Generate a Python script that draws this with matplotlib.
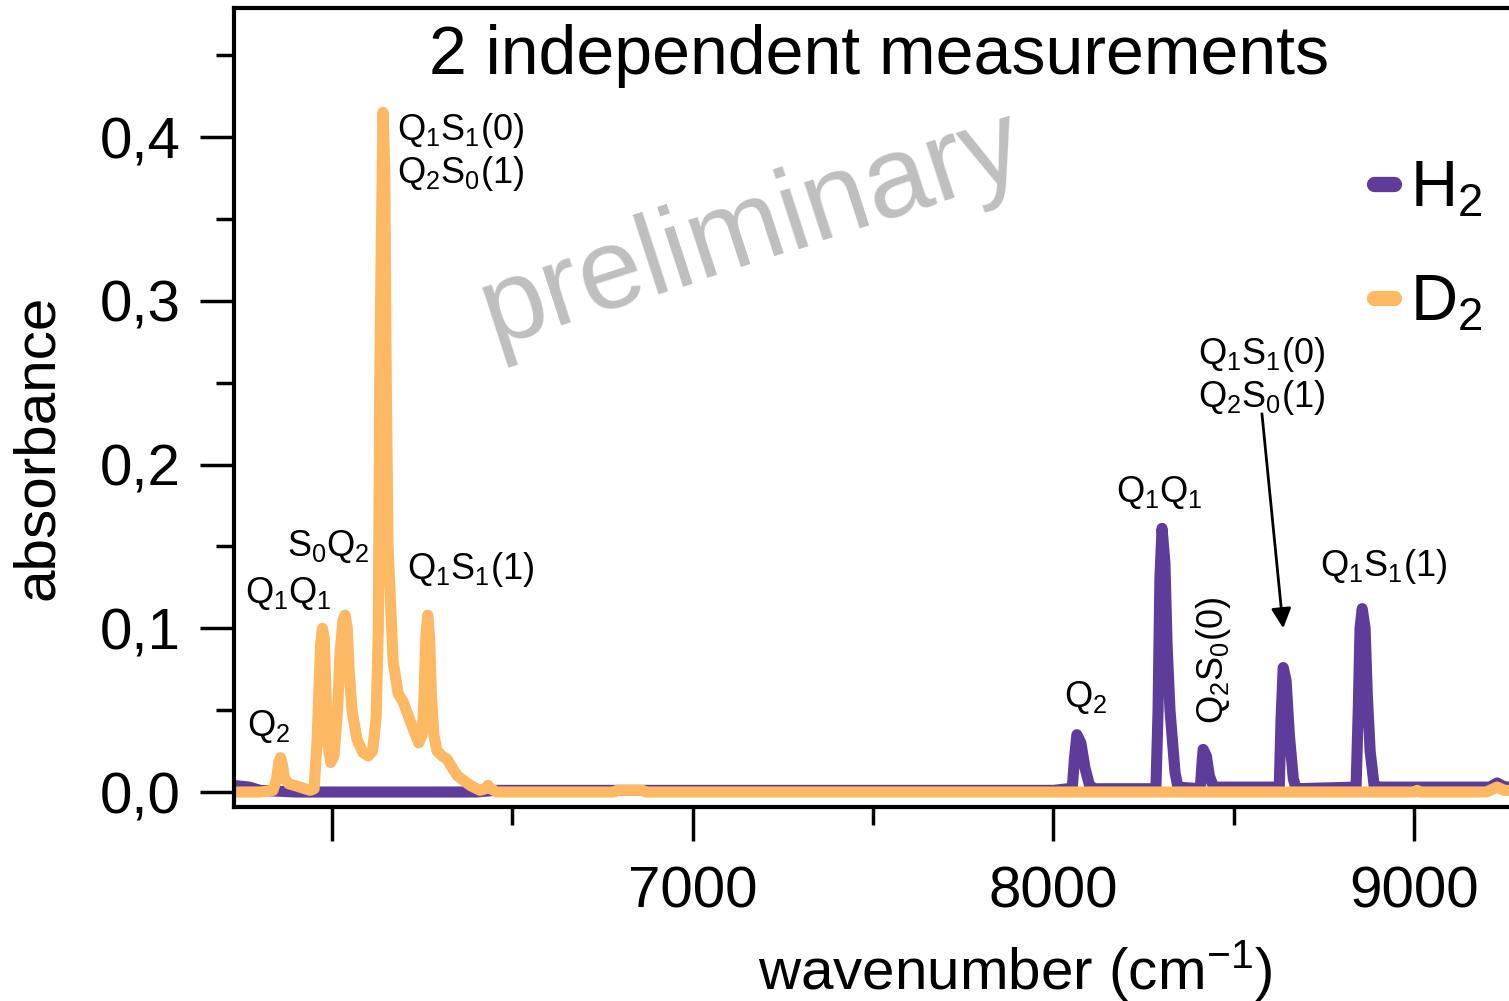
import matplotlib
matplotlib.use("Agg")
from matplotlib import pyplot as plt
from matplotlib.ticker import FixedLocator, MultipleLocator, FuncFormatter

plt.rcParams['font.family'] = ['Liberation Sans', 'DejaVu Sans']
plt.rcParams['mathtext.default'] = 'regular'

# D2 spectrum (wavenumber cm^-1, absorbance)
d2_wn = [5728, 5800, 5836, 5846, 5852, 5857, 5862, 5868, 5880, 5911, 5939, 5950,
         5958, 5963, 5968, 5973, 5978, 5983, 5988, 5996, 6005, 6015, 6022, 6030,
         6036, 6042, 6047, 6055, 6069, 6086, 6100, 6112, 6122, 6128, 6132, 6136,
         6141, 6146, 6150, 6155, 6161, 6169, 6183, 6197, 6222, 6240, 6250, 6255,
         6260, 6265, 6270, 6275, 6282, 6291, 6305, 6319, 6335, 6347, 6383, 6410,
         6425, 6432, 6440, 6457, 6700, 6780, 6790, 6860, 6870, 7500, 8000, 8600,
         9000, 9008, 9016, 9200, 9230, 9250, 9263]
d2_abs = [0.000, 0.000, 0.001, 0.008, 0.018, 0.021, 0.017, 0.008, 0.005, 0.003, 0.001, 0.002,
          0.030, 0.060, 0.090, 0.100, 0.094, 0.060, 0.030, 0.018, 0.022, 0.050, 0.085, 0.105,
          0.108, 0.100, 0.075, 0.050, 0.032, 0.024, 0.022, 0.025, 0.045, 0.100, 0.250, 0.330,
          0.415, 0.380, 0.250, 0.150, 0.120, 0.080, 0.060, 0.055, 0.040, 0.030, 0.035, 0.060,
          0.095, 0.108, 0.095, 0.060, 0.035, 0.025, 0.022, 0.020, 0.014, 0.010, 0.004, 0.001,
          0.002, 0.004, 0.002, 0.000, 0.000, 0.000, 0.001, 0.001, 0.000, 0.000, 0.000, 0.000,
          0.000, 0.001, 0.000, 0.000, 0.003, 0.001, 0.001]

# H2 spectrum
h2_wn = [5728, 5770, 5800, 5900, 6400, 6450, 7000, 7500, 8000, 8040,
         8052, 8058, 8065, 8076, 8087, 8100, 8114,
         8284, 8290, 8295, 8301, 8309, 8315, 8323, 8337, 8345,
         8407, 8412, 8415, 8424, 8432, 8444,
         8626, 8631, 8637, 8645, 8654, 8665, 8673,
         8839, 8845, 8850, 8856, 8864, 8870, 8878, 8889,
         8900, 9150, 9210, 9230, 9252, 9263]
h2_abs = [0.004, 0.003, 0.001, 0.000, 0.000, 0.001, 0.001, 0.001, 0.001, 0.002,
          0.002, 0.020, 0.035, 0.030, 0.015, 0.004, 0.002,
          0.002, 0.050, 0.130, 0.161, 0.140, 0.090, 0.050, 0.012, 0.003,
          0.002, 0.018, 0.026, 0.022, 0.010, 0.003,
          0.003, 0.045, 0.076, 0.068, 0.035, 0.008, 0.002,
          0.003, 0.050, 0.100, 0.112, 0.100, 0.060, 0.025, 0.004,
          0.003, 0.003, 0.003, 0.0055, 0.003, 0.003]

# peak labels: (text, wavenumber, absorbance, rotation)
d2_labels = [(r'$Q_2$', 5823, 0.040, 0),
             (r'$Q_1Q_1$', 5878, 0.1215, 0),
             (r'$S_0Q_2$', 5989, 0.150, 0),
             (r'$Q_1S_1(1)$', 6385, 0.1356, 0)]
h2_labels = [(r'$Q_2$', 8088, 0.058, 0),
             (r'$Q_1Q_1$', 8293, 0.183, 0),
             (r'$Q_2S_0(0)$', 8443, 0.0806, 90),
             (r'$Q_1S_1(1)$', 8914, 0.138, 0)]
double_label = r'$Q_1S_1(0)$' + '\n' + r'$Q_2S_0(1)$'

purple = '#5e3c99'
orange = '#fdb863'

fig = plt.figure(figsize=(15.09, 10.01), dpi=100)
ax = fig.add_axes([0.1551, 0.1943, 0.8449, 0.7977])

ax.plot(h2_wn, h2_abs, color=purple, lw=8, solid_capstyle='round', solid_joinstyle='round', label=r'$H_2$')
ax.plot(d2_wn, d2_abs, color=orange, lw=8, solid_capstyle='round', solid_joinstyle='round', label=r'$D_2$')

ax.set_xlim(5728, 9263)
ax.set_ylim(-0.00885, 0.4788)

# labels on the peaks
for txt, x, y, rot in d2_labels + h2_labels:
    ax.text(x, y, txt, fontsize=26, ha='center', va='center', rotation=rot)
ax.text(6181, 0.391, double_label, fontsize=26, ha='left', va='center', linespacing=1.15)
ax.text(8578, 0.254, double_label, fontsize=26, ha='center', va='center', linespacing=1.15)
ax.annotate('', xy=(8637, 0.100), xytext=(8578, 0.231),
            arrowprops=dict(arrowstyle='-|>', color='k', lw=2, mutation_scale=30, shrinkA=0, shrinkB=0))

ax.text(0.406, 0.722, 'preliminary', transform=ax.transAxes, fontsize=83, color='#bfbfbf',
        rotation=18, ha='center', va='center', rotation_mode='anchor', zorder=0)
ax.text(0.506, 0.94, '2 independent measurements', transform=ax.transAxes,
        fontsize=49, ha='center', va='center')

# axes styling
ax.spines['right'].set_visible(False)
for s in ['left', 'bottom', 'top']:
    ax.spines[s].set_linewidth(3)
ax.xaxis.set_major_locator(FixedLocator([6000, 7000, 8000, 9000]))
ax.xaxis.set_minor_locator(FixedLocator([6500, 7500, 8500]))
ax.xaxis.set_major_formatter(FuncFormatter(lambda v, p: '' if v < 6500 else '%d' % v))
ax.yaxis.set_major_locator(MultipleLocator(0.1))
ax.yaxis.set_minor_locator(FixedLocator([0.05, 0.15, 0.25, 0.35, 0.45]))
ax.yaxis.set_major_formatter(FuncFormatter(lambda v, p: ('%.1f' % v).replace('.', ',')))
ax.tick_params(which='major', length=24.5, width=2.5, labelsize=42)
ax.tick_params(which='minor', length=13, width=2.5)
ax.tick_params(axis='x', which='major', pad=18)
ax.tick_params(axis='y', which='major', pad=14)

ax.set_xlabel(r'wavenumber (cm$^{-1}$)', fontsize=42)
ax.xaxis.set_label_coords(0.6125, -0.205)
ax.xaxis.label.set_va('center')
ax.set_ylabel('absorbance', fontsize=42)
ax.yaxis.set_label_coords(-0.154, 0.45)
ax.yaxis.label.set_va('center')

leg = ax.legend(loc='upper right', bbox_to_anchor=(1.0, 0.8425), frameon=False, fontsize=47,
                handlelength=0.3, handletextpad=0.25, labelspacing=0.83, borderaxespad=0)
for h in leg.get_lines():
    h.set_linewidth(11)
    h.set_solid_capstyle('round')

fig.savefig('out.png', dpi=100)
